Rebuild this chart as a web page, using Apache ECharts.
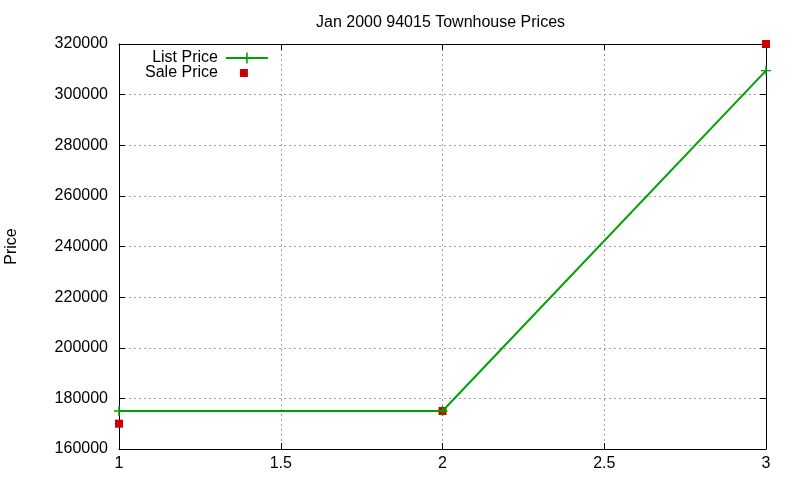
<!DOCTYPE html>
<html><head><meta charset="utf-8">
<script src="https://cdn.jsdelivr.net/npm/echarts@6/dist/echarts.min.js"></script>
<style>html,body{margin:0;padding:0;background:#fff}#c{width:800px;height:480px}</style>
</head><body><div id="c"></div>
<script>
const titleText = 'Jan 2000 94015 Townhouse Prices';
const xValues = [1, 2, 3];
const listPrice = [175000, 175000, 309500];
const salePrice = [170000, 175000, 320000];
const xTicks = [1, 1.5, 2, 2.5, 3];
const yTicks = [160000, 180000, 200000, 220000, 240000, 260000, 280000, 300000, 320000];

const font = 'Liberation Sans, Arial, sans-serif';
const plus = 'path://M4.3,0H5.7V4.3H10V5.7H5.7V10H4.3V5.7H0V4.3H4.3Z';
const legendSquare = 'path://M0,0h0.001v0.001h-0.001Z M41.999,13.999h0.001v0.001h-0.001Z M14,3H22V11H14Z';
const chart = echarts.init(document.getElementById('c'));
const gridLine = {show: true, lineStyle: {color: '#a0a0a0', type: [2, 3], width: 1}};
chart.setOption({
  animation: false,
  backgroundColor: '#fff',
  title: {text: titleText, left: 311, top: 10, textStyle: {fontFamily: font, fontSize: 16, fontWeight: 'normal', color: '#000'}},
  legend: {
    orient: 'vertical', left: 140, top: 45, align: 'right', itemGap: -1,
    itemWidth: 42, itemHeight: 14,
    textStyle: {fontFamily: font, fontSize: 16, lineHeight: 15, color: '#000', padding: [0, 3, 0, 0]},
    data: [{name: 'List Price'}, {name: 'Sale Price', icon: legendSquare}]
  },
  grid: {left: 119, right: 34, top: 44, bottom: 31, containLabel: false, outerBoundsMode: 'none'},
  xAxis: [{
    type: 'value', min: 1, max: 3, interval: 0.5,
    axisLine: {lineStyle: {color: '#000'}},
    axisTick: {inside: true, length: 6, lineStyle: {color: '#000'}},
    axisLabel: {fontFamily: font, fontSize: 16, color: '#000', margin: 7},
    splitLine: gridLine
  }, {
    type: 'value', min: 1, max: 3, interval: 0.5, position: 'top',
    axisLine: {show: true, lineStyle: {color: '#000'}},
    axisTick: {show: true, inside: true, length: 6, lineStyle: {color: '#000'}},
    axisLabel: {show: false}, splitLine: {show: false}
  }],
  yAxis: [{
    type: 'value', min: 160000, max: 320000, interval: 20000,
    name: 'Price', nameLocation: 'middle', nameGap: 99,
    nameTextStyle: {fontFamily: font, fontSize: 16, color: '#000'},
    axisLine: {show: true, lineStyle: {color: '#000'}},
    axisTick: {show: true, inside: true, length: 6, lineStyle: {color: '#000'}},
    axisLabel: {fontFamily: font, fontSize: 16, color: '#000', margin: 11, formatter: v => String(v)},
    splitLine: gridLine
  }, {
    type: 'value', min: 160000, max: 320000, interval: 20000, position: 'right',
    axisLine: {show: true, lineStyle: {color: '#000'}},
    axisTick: {show: true, inside: true, length: 6, lineStyle: {color: '#000'}},
    axisLabel: {show: false}, splitLine: {show: false}
  }],
  series: [{
    name: 'List Price', type: 'line',
    data: xValues.map((x, i) => [x, listPrice[i]]),
    symbol: plus, symbolSize: 10, showSymbol: true,
    itemStyle: {color: '#00a000'},
    lineStyle: {color: '#00a000', width: 2}
  }, {
    name: 'Sale Price', type: 'scatter',
    data: xValues.map((x, i) => [x, salePrice[i]]),
    symbol: 'rect', symbolSize: 8,
    itemStyle: {color: '#cc0000', opacity: 1}
  }]
});
</script></body></html>
